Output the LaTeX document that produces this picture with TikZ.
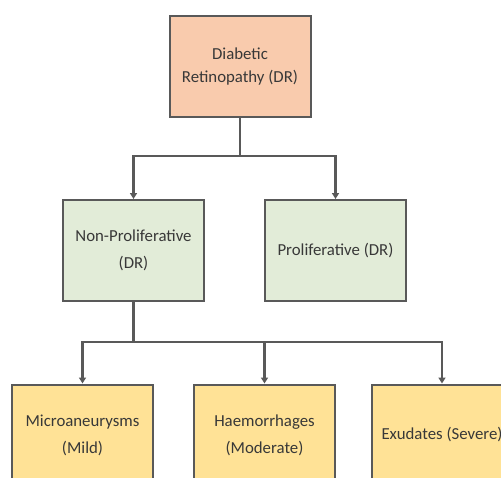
\documentclass[tikz,border=0pt]{standalone}
\usepackage{fontspec}
\setmainfont{Carlito}
\usetikzlibrary{
    arrows.meta,
    positioning
}

\definecolor{peach}{RGB}{249,203,173}
\definecolor{sage}{RGB}{226,236,216}
\definecolor{butter}{RGB}{255,226,150}
\definecolor{edge}{RGB}{89,89,89}
\definecolor{ink}{RGB}{56,56,56}

\tikzset{
    box/.style={draw=edge, line width=2pt, minimum width=141pt,
        minimum height=101pt, align=center, text=ink,
        font=\fontsize{16.8}{27}\selectfont},
    link/.style={draw=edge, line width=2.2pt},
    arr/.style={link, -{Triangle[width=7pt,length=6pt]}}
}

\begin{document}
\begin{tikzpicture}
    % page frame, the bottom row runs off the edge
    \clip (0,0) rectangle (501pt,-477pt);
    \fill[white] (0,0) rectangle (501pt,-477pt);

    \node[box, fill=peach, font=\fontsize{16.8}{23}\selectfont] (dr) at (240pt,-66.5pt) {Diabetic\\Retinopathy (DR)};
    \node[box, fill=sage]  (npdr) at (133.5pt,-250.5pt) {Non-Proliferative\\(DR)};
    \node[box, fill=sage]  (pdr)  at (335.5pt,-250.5pt) {Proliferative (DR)};
    \node[box, fill=butter] (mild) at (82.5pt,-435pt)  {Microaneurysms\\(Mild)};
    \node[box, fill=butter] (mod)  at (264.5pt,-435pt) {Haemorrhages\\(Moderate)};
    \node[box, fill=butter] (sev)  at (442pt,-435pt)   {Exudates (Severe)};

    \coordinate (split1) at (240pt,-156pt);
    \coordinate (split2) at (133.5pt,-342pt);

    \draw[link] (dr.south) -- (split1);
    \draw[arr] (split1) -| (npdr.north);
    \draw[arr] (split1) -| (pdr.north);

    \draw[link] (npdr.south) -- (split2);
    \draw[arr] (split2) -| (mild.north);
    \draw[arr] (split2) -| (mod.north);
    \draw[arr] (split2) -| (sev.north);
\end{tikzpicture}
\end{document}
